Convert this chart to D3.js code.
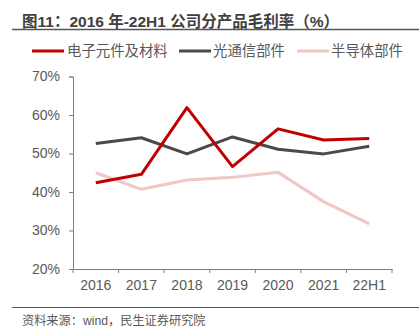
<!DOCTYPE html>
<html><head><meta charset="utf-8">
<script src="https://cdn.jsdelivr.net/npm/d3@7"></script>
<style>
body{margin:0;background:#fff;}
text{font-family:"Liberation Sans","Noto Sans CJK SC",sans-serif;}
</style></head>
<body><svg id="c" width="419" height="336"></svg>
<script>
const categories = ["2016","2017","2018","2019","2020","2021","22H1"];
const seriesNames = ["电子元件及材料","光通信部件","半导体部件"];
const electronic = [42.4,44.6,61.9,46.6,56.4,53.5,53.9];
const optical = [52.6,54.1,49.9,54.3,51.1,49.9,51.9];
const semi = [45.0,40.7,43.1,43.8,45.1,37.5,31.7];
const yTicks = [20,30,40,50,60,70];
const colors = ["#C00000","#4A4A4A","#F0C6C6"];

const svg = d3.select("#c");
const x = d3.scaleBand().domain(categories).range([73,392]);
const y = d3.scaleLinear().domain([20,70]).range([269,76.5]);
const txt = "#595959";

svg.append("text").attr("x",22).attr("y",26.5).attr("font-size",15.5).attr("font-weight","bold")
  .attr("fill","#404040").attr("font-family","'Liberation Sans','Noto Sans CJK SC',sans-serif")
  .text("图11：2016 年-22H1 公司分产品毛利率（%）");
svg.append("line").attr("x1",12).attr("x2",419).attr("y1",29.5).attr("y2",29.5).attr("stroke","#555").attr("stroke-width",1.5);

const lg = [[32,67],[179,213],[297,331]];
seriesNames.forEach((n,i)=>{
  svg.append("line").attr("x1",lg[i][0]).attr("x2",lg[i][0]+32).attr("y1",51).attr("y2",51)
    .attr("stroke",colors[i]).attr("stroke-width",3);
  svg.append("text").attr("x",lg[i][1]).attr("y",56).attr("font-size",14.4).attr("fill",txt)
    .attr("font-family","'Noto Sans CJK SC',sans-serif").text(n);
});

const ya = svg.append("g").attr("transform","translate(73,0)")
  .call(d3.axisLeft(y).tickValues(yTicks).tickSize(4).tickPadding(9).tickFormat(d=>d+"%"));
const xa = svg.append("g").attr("transform","translate(0,269)")
  .call(d3.axisBottom(x).tickSize(0).tickPadding(11));
[ya,xa].forEach(a=>{
  a.select(".domain").attr("stroke","#7f7f7f");
  a.selectAll(".tick line").attr("stroke","#7f7f7f");
  a.selectAll("text").attr("font-size",14).attr("fill",txt).attr("font-family","'Liberation Sans',sans-serif");
});
svg.append("g").selectAll("line").data(categories.concat(["end"])).join("line")
  .attr("x1",(d,i)=>73+i*x.step()).attr("x2",(d,i)=>73+i*x.step())
  .attr("y1",269).attr("y2",273).attr("stroke","#7f7f7f");

const line = d3.line().x((d,i)=>x(categories[i])+x.bandwidth()/2).y(d=>y(d));
[[semi,2],[optical,1],[electronic,0]].forEach(([s,i])=>{
  svg.append("path").datum(s).attr("d",line).attr("fill","none")
    .attr("stroke",colors[i]).attr("stroke-width",3).attr("stroke-linejoin","round");
});

svg.append("line").attr("x1",12).attr("x2",419).attr("y1",307.5).attr("y2",307.5).attr("stroke","#555").attr("stroke-width",1.2);
svg.append("text").attr("x",22).attr("y",325).attr("font-size",12.2).attr("fill",txt)
  .attr("font-family","'Noto Sans CJK SC',sans-serif").text("资料来源：wind，民生证券研究院");
</script></body></html>
